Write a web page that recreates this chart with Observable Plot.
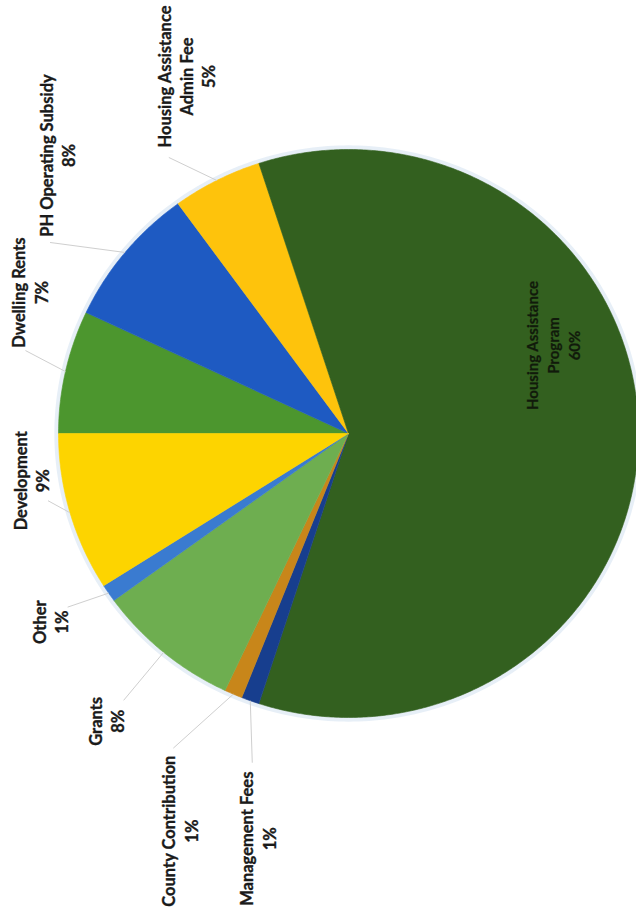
<!DOCTYPE html>
<html><head><meta charset="utf-8">
<script src="https://cdn.jsdelivr.net/npm/d3@7"></script>
<script src="https://cdn.jsdelivr.net/npm/@observablehq/plot@0.6"></script>
<style>html,body{margin:0;padding:0;background:#fff;overflow:hidden;}</style>
</head><body><div id="chart"></div>
<script>
// ---- data ----
const categories = ["Dwelling Rents", "PH Operating Subsidy", "Housing Assistance\nAdmin Fee", "Housing Assistance\nProgram", "Management Fees", "County Contribution", "Grants", "Other", "Development"];
const shares = [7, 8, 5, 60, 1, 1, 8, 1, 9];
const colors = ["#4c962e", "#1e5ac2", "#fec30c", "#33601f", "#173e8e", "#c8861a", "#6eae50", "#3a7bd0", "#fdd400"];

// ---- layout (pixels) ----
const W = 636, H = 917, cx = 348, cy = 433, rx = 290, ry = 284;
// label centre offset (dx,dy) and leader start (lx,ly) relative to the slice's edge anchor
const labelLayout = [
  {dx: -36, dy: -79, lx: -40, ly: -21},
  {dx: -68, dy: -97, lx: -75, ly: -10},
  {dx: -31, dy: -104, lx: -48, ly: -23},
  {dx: -86, dy: -88, inside: true},
  {dx: 7, dy: 138, lx: 2, ly: 62},
  {dx: -54, dy: 137, lx: -60, ly: 54},
  {dx: -58, dy: 69, lx: -40, ly: 48},
  {dx: -59, dy: 29, lx: -41, ly: 14},
  {dx: -39, dy: -32, lx: -22, ly: -12}
];

const total = d3.sum(shares);
const rad = (deg) => deg * Math.PI / 180;
// angle measured clockwise from the left (chart is rotated a quarter turn)
const pt = (deg, r = 1) => ({u: -r * Math.cos(rad(deg)), v: -r * Math.sin(rad(deg))});

const wedges = [];
const labels = [];
const leaders = [];
let cum = 0;
categories.forEach((cat, i) => {
  const a0 = cum / total * 360;
  cum += shares[i];
  const a1 = cum / total * 360;
  wedges.push({cat, u: 0, v: 0});
  const n = Math.max(2, Math.ceil((a1 - a0) / 0.5));
  for (let k = 0; k <= n; k++) {
    const p = pt(a0 + (a1 - a0) * k / n);
    wedges.push({cat, ...p});
  }
  wedges.push({cat, u: 0, v: 0});
  const mid = (a0 + a1) / 2;
  const anc = pt(mid);
  const L = labelLayout[i];
  labels.push({
    text: cat + "\n" + Math.round(shares[i] / total * 100) + "%",
    u: anc.u + L.dx / rx, v: anc.v + L.dy / ry, inside: !!L.inside
  });
  if (!L.inside) leaders.push({u1: anc.u + L.lx / rx, v1: anc.v + L.ly / ry, u2: anc.u, v2: anc.v});
});
const ring = d3.range(0, 361, 1).map(d => pt(d, 1.004));

const chart = Plot.plot({
  width: W, height: H, margin: 0,
  x: {domain: [-cx / rx, (W - cx) / rx], axis: null},
  y: {domain: [-cy / ry, (H - cy) / ry], range: [0, H], axis: null},
  color: {domain: categories, range: colors},
  style: {background: "#fff"},
  marks: [
    Plot.line(ring, {x: "u", y: "v", stroke: "#dde8f3", strokeWidth: 6, strokeOpacity: 0.7}),
    Plot.line(wedges, {x: "u", y: "v", z: "cat", fill: "cat", stroke: "cat", strokeWidth: 0.6}),
    Plot.link(leaders, {x1: "u1", y1: "v1", x2: "u2", y2: "v2", stroke: "#cfcfcf", strokeWidth: 1}),
    Plot.text(labels.filter(d => !d.inside), {x: "u", y: "v", text: "text", rotate: -90, fontSize: 16.5, fontWeight: "bold", fontFamily: "Lato, 'Liberation Sans Narrow', sans-serif", lineHeight: 1.35, fill: "#1a1a1a", stroke: "#1a1a1a", strokeWidth: 0.35, textAnchor: "middle", lineAnchor: "middle"}),
    Plot.text(labels.filter(d => d.inside), {x: "u", y: "v", text: "text", rotate: -90, fontSize: 15, fontWeight: "bold", fontFamily: "Lato, 'Liberation Sans Narrow', sans-serif", lineHeight: 1.4, fill: "#111a0b", stroke: "#111a0b", strokeWidth: 0.25, textAnchor: "middle", lineAnchor: "middle"})
  ]
});
document.getElementById("chart").appendChild(chart);
</script>
</body></html>
